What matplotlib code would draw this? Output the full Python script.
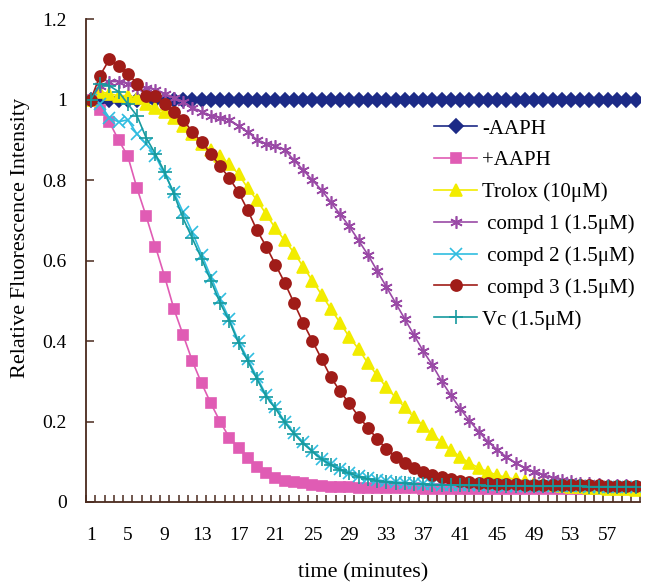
import numpy as np
import matplotlib
matplotlib.use('Agg')
from matplotlib import pyplot as plt

plt.rcParams['font.family'] = ['Liberation Serif', 'DejaVu Serif']

minutes = list(range(1, 61))
xtick_labels = [1, 5, 9, 13, 17, 21, 25, 29, 33, 37, 41, 45, 49, 53, 57]

minus_aaph = [1.0] * 60
plus_aaph = [1.0, 0.975, 0.945, 0.90, 0.86, 0.78, 0.71, 0.635, 0.56, 0.48,
             0.415, 0.35, 0.295, 0.245, 0.20, 0.16, 0.135, 0.11, 0.087, 0.072,
             0.06, 0.053, 0.049, 0.046, 0.043, 0.040, 0.038, 0.037, 0.036, 0.035,
             0.035, 0.035, 0.034, 0.034, 0.034, 0.034, 0.033, 0.033, 0.033, 0.033,
             0.033, 0.033, 0.033, 0.032, 0.032, 0.032, 0.032, 0.032, 0.032, 0.032,
             0.031, 0.031, 0.031, 0.031, 0.031, 0.031, 0.031, 0.031, 0.031, 0.031]
trolox = [1.0, 1.02, 1.015, 1.01, 1.01, 1.005, 0.99, 0.98, 0.97, 0.955,
          0.935, 0.915, 0.89, 0.875, 0.86, 0.84, 0.815, 0.78, 0.75, 0.715,
          0.68, 0.65, 0.62, 0.585, 0.55, 0.515, 0.48, 0.445, 0.41, 0.38,
          0.345, 0.315, 0.285, 0.26, 0.235, 0.21, 0.19, 0.168, 0.148, 0.13,
          0.112, 0.097, 0.085, 0.075, 0.067, 0.061, 0.056, 0.052, 0.048, 0.045,
          0.042, 0.04, 0.038, 0.036, 0.035, 0.034, 0.033, 0.032, 0.031, 0.03]
compd1 = [1.0, 1.035, 1.045, 1.045, 1.04, 1.03, 1.03, 1.025, 1.015, 1.005,
          0.995, 0.98, 0.97, 0.96, 0.955, 0.95, 0.935, 0.92, 0.90, 0.89,
          0.885, 0.875, 0.85, 0.825, 0.80, 0.775, 0.745, 0.715, 0.685, 0.65,
          0.615, 0.575, 0.535, 0.495, 0.455, 0.415, 0.375, 0.34, 0.30, 0.265,
          0.232, 0.202, 0.175, 0.15, 0.13, 0.112, 0.097, 0.085, 0.075, 0.067,
          0.06, 0.055, 0.051, 0.048, 0.046, 0.044, 0.043, 0.042, 0.041, 0.04]
compd2 = [1.0, 0.99, 0.955, 0.945, 0.95, 0.915, 0.89, 0.86, 0.815, 0.77,
          0.72, 0.67, 0.615, 0.56, 0.505, 0.455, 0.40, 0.355, 0.31, 0.265,
          0.235, 0.20, 0.172, 0.148, 0.127, 0.108, 0.094, 0.082, 0.073, 0.065,
          0.059, 0.055, 0.052, 0.05, 0.048, 0.046, 0.045, 0.044, 0.043, 0.042,
          0.042, 0.042, 0.041, 0.041, 0.041, 0.040, 0.040, 0.040, 0.040, 0.039,
          0.039, 0.039, 0.039, 0.039, 0.038, 0.038, 0.038, 0.038, 0.038, 0.038]
compd3 = [1.0, 1.06, 1.10, 1.085, 1.065, 1.04, 1.01, 1.01, 0.99, 0.97,
          0.95, 0.92, 0.895, 0.865, 0.835, 0.805, 0.77, 0.725, 0.675, 0.635,
          0.59, 0.545, 0.495, 0.445, 0.40, 0.355, 0.31, 0.275, 0.245, 0.212,
          0.185, 0.157, 0.132, 0.112, 0.097, 0.085, 0.075, 0.068, 0.062, 0.057,
          0.053, 0.05, 0.048, 0.046, 0.045, 0.044, 0.044, 0.043, 0.043, 0.042,
          0.042, 0.042, 0.041, 0.041, 0.041, 0.041, 0.040, 0.040, 0.040, 0.040]
vc = [1.0, 1.04, 1.035, 1.02, 0.99, 0.96, 0.905, 0.865, 0.82, 0.765,
      0.705, 0.655, 0.605, 0.55, 0.495, 0.45, 0.395, 0.35, 0.305, 0.262,
      0.232, 0.198, 0.17, 0.145, 0.125, 0.106, 0.092, 0.08, 0.071, 0.063,
      0.057, 0.053, 0.05, 0.048, 0.046, 0.045, 0.044, 0.043, 0.042, 0.042,
      0.041, 0.041, 0.041, 0.040, 0.040, 0.040, 0.040, 0.040, 0.039, 0.039,
      0.039, 0.039, 0.039, 0.039, 0.038, 0.038, 0.038, 0.038, 0.038, 0.038]

series = [
    ('-AAPH', minus_aaph, '#1c2a86', 'D', 7),
    ('+AAPH', plus_aaph, '#e05cb4', 's', 7),
    ('Trolox (10μM)', trolox, '#f2ec00', '^', 8.5),
    (' compd 1 (1.5μM)', compd1, '#9a4aa6', (6, 2, 0), 9),
    (' compd 2 (1.5μM)', compd2, '#30bde0', 'x', 8),
    (' compd 3 (1.5μM)', compd3, '#a01c18', 'o', 8),
    ('Vc (1.5μM)', vc, '#179a9e', '+', 10),
]

fig = plt.figure(figsize=(6.48, 5.83), dpi=100)
ax = fig.add_axes([0.133, 0.139, 0.855, 0.828])

for label, vals, color, marker, ms in series:
    ax.plot(minutes, vals, color=color, marker=marker, markersize=ms,
            linewidth=1.2, markeredgewidth=1.2, label=label)

spine_color = '#4a2a1e'
ax.set_xlim(0.5, 60.5)
ax.set_ylim(0, 1.2)
ax.spines['top'].set_visible(False)
ax.spines['right'].set_visible(False)
for s in ('left', 'bottom'):
    ax.spines[s].set_color(spine_color)
    ax.spines[s].set_linewidth(1.3)

ax.set_xticks(xtick_labels)
ax.set_xticklabels([str(v) for v in xtick_labels])
ax.set_xticks(np.arange(0.5, 61, 1), minor=True)
ax.tick_params(axis='x', which='major', length=0, pad=18, labelsize=14)
ax.tick_params(axis='x', which='minor', direction='in', length=5,
               color=spine_color, width=1.1)

yt = [0, 0.2, 0.4, 0.6, 0.8, 1.0, 1.2]
ax.set_yticks(yt)
ax.set_yticklabels(['0', '0.2', '0.4', '0.6', '0.8', '1', '1.2'])
ax.tick_params(axis='y', direction='in', length=6, color=spine_color,
               width=1.1, labelsize=14, pad=14)

ax.set_xlabel('time (minutes)', fontsize=16)
ax.xaxis.set_label_coords(0.5, -0.127)
ax.set_ylabel('Relative Fluorescence Intensity', fontsize=16)
ax.yaxis.set_label_coords(-0.101, 0.547)

ax.legend(loc='upper left', bbox_to_anchor=(0.628, 0.793), frameon=False,
          fontsize=15, handlelength=2.07, handletextpad=0.25, labelspacing=0.58,
          borderaxespad=0, borderpad=0)

fig.savefig('out.png', dpi=100)
